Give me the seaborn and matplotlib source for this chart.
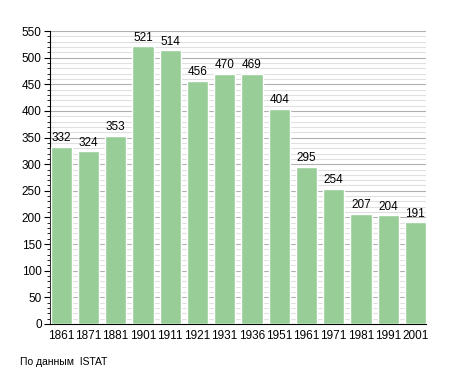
import matplotlib
matplotlib.use("Agg")
import matplotlib.pyplot as plt
import seaborn as sns
import pandas as pd
from matplotlib.ticker import MultipleLocator

years = ["1861", "1871", "1881", "1901", "1911", "1921", "1931",
         "1936", "1951", "1961", "1971", "1981", "1991", "2001"]
population = [332, 324, 353, 521, 514, 456, 470, 469, 404, 295, 254, 207, 204, 191]

df = pd.DataFrame({"year": years, "pop": population})

sns.set_style("white")
plt.rcParams["font.family"] = ["Liberation Sans", "DejaVu Sans"]
plt.rcParams["text.color"] = "black"
plt.rcParams["xtick.color"] = "black"
plt.rcParams["ytick.color"] = "black"

fig = plt.figure(figsize=(4.55, 3.73), dpi=100)
ax = fig.add_axes([50 / 455, 49 / 373, 376 / 455, 293 / 373])

sns.barplot(data=df, x="year", y="pop", color="#98cd98", saturation=1,
            width=0.78, ax=ax, zorder=3)

for i, v in enumerate(population):
    ax.text(i, v + 5, str(v), ha="center", va="bottom", fontsize=8.5,
            color="black", zorder=4)

ax.set_ylim(0, 550)
ax.set_xlim(-0.41, 13.39)
ax.yaxis.set_major_locator(MultipleLocator(50))
ax.yaxis.set_minor_locator(MultipleLocator(10))
ax.grid(axis="y", which="major", color="#b0b0b0", linewidth=0.8, zorder=0)
ax.grid(axis="y", which="minor", color="#e0e0e0", linewidth=0.8, zorder=0)
ax.set_axisbelow(True)

for s in ["top", "right"]:
    ax.spines[s].set_visible(False)
ax.spines["left"].set_color("black")
ax.spines["bottom"].set_color("black")
ax.tick_params(axis="y", which="major", left=True, length=4, width=0.8,
               labelsize=8.5, pad=2, labelcolor="black")
ax.tick_params(axis="y", which="minor", left=True, length=2, width=0.6)
ax.tick_params(axis="x", bottom=False, labelsize=8.5, pad=1, labelcolor="black")
ax.set_xlabel("")
ax.set_ylabel("")

fig.text(20 / 455, 1 - 362 / 373, "По данным  ISTAT", fontsize=7.5,
         va="center", color="black")

fig.savefig("out.png", dpi=100)
